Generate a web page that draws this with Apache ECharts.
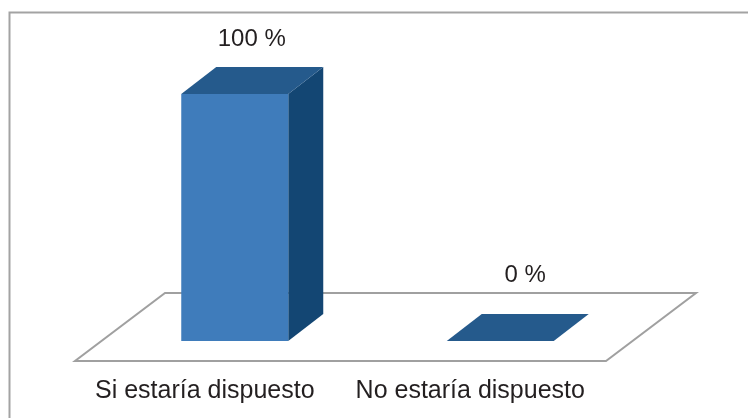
<!DOCTYPE html>
<html><head><meta charset="utf-8">
<style>html,body{margin:0;padding:0;background:#fff}#c{width:748px;height:418px}</style>
<script src="https://cdn.jsdelivr.net/npm/echarts@6/dist/echarts.min.js"></script>
</head><body><div id="c"></div>
<script>
const categories = ['Si estaría dispuesto', 'No estaría dispuesto'];
const values = [100, 0];
const labels = ['100 %', '0 %'];

const barW = 107, dx = 35, dy = 27, baseX = 27, baseY = 20, floorDx = 90, floorDy = 68;
const labelShift = [[17, -55], [25, -66]];
const chart = echarts.init(document.getElementById('c'), null, {renderer: 'canvas'});
function poly(points, fill) {
  return {type: 'polygon', shape: {points}, style: {fill, stroke: null}};
}
chart.setOption({
  animation: false,
  backgroundColor: '#fff',
  grid: {left: 75, width: 531, top: 114, height: 247},
  xAxis: {type: 'category', data: categories,
    axisLine: {show: false}, axisTick: {show: false}, splitLine: {show: false},
    axisLabel: {color: '#231f20', fontFamily: 'Liberation Sans', fontSize: 25, margin: 18, interval: 0, padding: [0, 6, 0, 0]}},
  yAxis: {type: 'value', min: 0, max: 100, show: false},
  graphic: [{type: 'rect', shape: {x: 9.5, y: 12.5, width: 800, height: 500},
    style: {fill: 'none', stroke: '#a3a3a3', lineWidth: 2}, silent: true, z: -1}],
  series: [
    {type: 'custom', coordinateSystem: 'cartesian2d', z: 1, data: [[0, 0]],
     renderItem(p, api) {
       const a = api.coord([0, 0]), hw = api.size([1, 0])[0];
       const x0 = a[0] - hw / 2, x1 = a[0] + hw * 1.5, y = a[1];
       return {type: 'polygon', shape: {points: [[x0, y], [x1, y], [x1 + floorDx, y - floorDy], [x0 + floorDx, y - floorDy]]},
         style: {fill: '#fff', stroke: '#a0a0a0', lineWidth: 2}};
     }},
    {type: 'custom', coordinateSystem: 'cartesian2d', z: 2,
     data: values.map((v, i) => [i, v]),
     renderItem(p, api) {
       const i = api.value(0), top = api.coord([i, api.value(1)]), bot = api.coord([i, 0]);
       const xl = top[0] - barW / 2 + baseX, xr = xl + barW;
       const yt = top[1] - baseY, yb = bot[1] - baseY;
       const children = [
         poly([[xr, yt], [xr + dx, yt - dy], [xr + dx, yb - dy], [xr, yb]], '#134673'),
         poly([[xl, yt], [xr, yt], [xr, yb], [xl, yb]], '#3f7cbb'),
         poly([[xl, yt], [xl + dx, yt - dy], [xr + dx, yt - dy], [xr, yt]], '#255a8c'),
         {type: 'text', style: {text: labels[p.dataIndex], x: top[0] + baseX + labelShift[p.dataIndex][0], y: yt + labelShift[p.dataIndex][1],
           align: 'center', verticalAlign: 'middle', fill: '#231f20', font: '24px "Liberation Sans"'}}
       ];
       return {type: 'group', children};
     }}
  ]
});
</script></body></html>
